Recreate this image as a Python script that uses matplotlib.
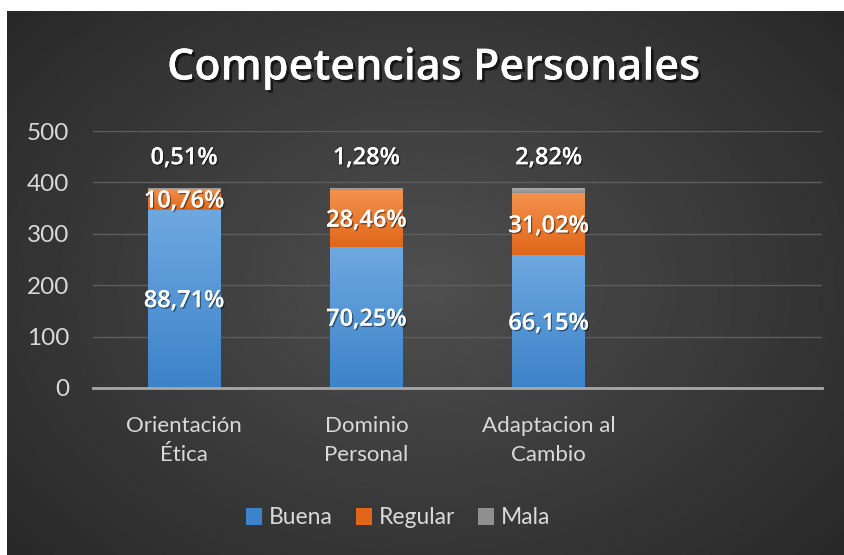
import numpy as np
import matplotlib
matplotlib.use("Agg")
import matplotlib.pyplot as plt
import matplotlib.patheffects as pe
from matplotlib.patches import Patch

# data
categories = ["Orientación\nÉtica", "Dominio\nPersonal", "Adaptacion al\nCambio"]
series = ["Buena", "Regular", "Mala"]
buena = [346, 274, 258]
regular = [42, 111, 121]
mala = [2, 5, 11]
pct_buena = ["88,71%", "70,25%", "66,15%"]
pct_regular = ["10,76%", "28,46%", "31,02%"]
pct_mala = ["0,51%", "1,28%", "2,82%"]
y_ticks = [0, 100, 200, 300, 400, 500]

colors = {"Buena": ("#6ea8e0", "#3d83c9"),
          "Regular": ("#f3924f", "#e0671a"),
          "Mala": ("#b0b0b0", "#8f8f8f")}

W, H = 845, 555
fig = plt.figure(figsize=(W / 100, H / 100), dpi=100, facecolor="white")

# dark radial background
bg = fig.add_axes([7 / W, 0, 1 - 7 / W, 1 - 11 / H], zorder=0)
yy, xx = np.mgrid[0:1:300j, 0:1:450j]
r = np.sqrt(((xx - 0.5) / 0.75) ** 2 + ((yy - 0.5) / 0.85) ** 2)
shade = np.clip(0.31 - 0.17 * r, 0.14, 0.31)
bg.imshow(shade, cmap="gray", vmin=0, vmax=1, aspect="auto", extent=[0, 1, 0, 1])
bg.axis("off")

ax = fig.add_axes([93 / W, 1 - 388 / H, (822 - 93) / W, (388 - 131) / H], zorder=1)
ax.set_facecolor("none")

x = np.arange(len(categories))
width = 0.4
bottoms = np.zeros(len(categories))
grad = np.linspace(0, 1, 100).reshape(-1, 1)
for name, vals in zip(series, [buena, regular, mala]):
    bars = ax.bar(x, vals, width, bottom=bottoms, color=colors[name][1], zorder=3)
    top_c, bot_c = colors[name]
    cmap = matplotlib.colors.LinearSegmentedColormap.from_list(name, [bot_c, top_c])
    for b in bars:
        x0, y0 = b.get_x(), b.get_y()
        im = ax.imshow(grad, cmap=cmap, origin="lower", aspect="auto", zorder=3.5,
                       extent=[x0, x0 + b.get_width(), y0, y0 + b.get_height()])
        im.set_clip_path(b)
    bottoms += np.array(vals)

lab_fx = [pe.withSimplePatchShadow(offset=(1, -1), shadow_rgbFace="black", alpha=0.45), pe.Normal()]
lab_kw = dict(ha="center", va="center", color="white", fontsize=17, fontweight="semibold",
              family="Open Sans", zorder=5, path_effects=lab_fx)
for i in range(len(categories)):
    ax.text(x[i], buena[i] / 2 - 4, pct_buena[i], **lab_kw)
    ax.text(x[i], buena[i] + regular[i] / 2 - 4, pct_regular[i], **lab_kw)
    ax.text(x[i], 447, pct_mala[i], **lab_kw)

ax.set_xlim(-0.5, 3.5)
ax.set_ylim(0, 500)
ax.set_yticks(y_ticks)
ax.set_yticklabels([str(v) for v in y_ticks], family="Lato", fontsize=17.5, color="#d9d9d9")
ax.set_xticks(x)
ax.set_xticklabels(categories, family="Lato", fontsize=16, color="#d9d9d9", linespacing=1.6)
ax.tick_params(length=0)
ax.tick_params(axis="y", pad=17)
ax.tick_params(axis="x", pad=20)
ax.grid(axis="y", color="#5e5e5e", linewidth=1, zorder=0)
ax.set_axisbelow(True)
for s in ["top", "right", "left"]:
    ax.spines[s].set_visible(False)
ax.spines["bottom"].set_color("#a8a8a8")
ax.spines["bottom"].set_linewidth(2)
ax.spines["bottom"].set_zorder(4)

fig.text(433 / W, 1 - 68 / H, "Competencias Personales", ha="center", va="center",
         color="white", fontsize=31, fontweight="semibold", family="Open Sans", zorder=3,
         path_effects=[pe.withSimplePatchShadow(offset=(2, -2), shadow_rgbFace="black", alpha=0.6),
                       pe.Normal()])

handles = [Patch(facecolor=colors[n][1], label=n) for n in series]
fig.legend(handles=handles, loc="center", bbox_to_anchor=(398 / W, 1 - 518 / H), ncol=3,
           frameon=False, handlelength=0.7, handleheight=0.7, handletextpad=0.3,
           columnspacing=1.0, prop={"family": "Lato", "size": 16.5}, labelcolor="#d9d9d9")

fig.savefig("out.png", dpi=100, facecolor="white")
